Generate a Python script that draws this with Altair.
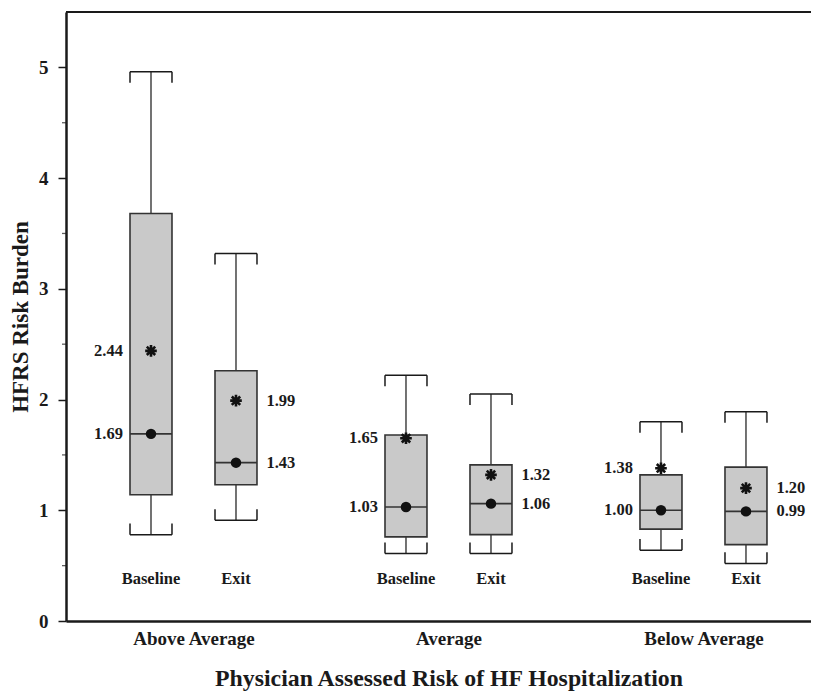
import altair as alt
import pandas as pd

# ---------------- data ----------------
groups = ["Above Average", "Average", "Below Average"]
periods = ["Baseline", "Exit"]

# order: AboveAvg-Baseline, AboveAvg-Exit, Avg-Baseline, Avg-Exit, BelowAvg-Baseline, BelowAvg-Exit
low = [0.78, 0.91, 0.61, 0.61, 0.64, 0.52]
q1 = [1.14, 1.23, 0.76, 0.78, 0.83, 0.69]
median = [1.69, 1.43, 1.03, 1.06, 1.00, 0.99]
q3 = [3.68, 2.26, 1.68, 1.41, 1.32, 1.39]
high = [4.96, 3.32, 2.22, 2.05, 1.80, 1.89]
mean = [2.44, 1.99, 1.65, 1.32, 1.38, 1.20]

y_major = [0, 1, 2, 3, 4, 5]
y_minor = [0.5, 1.5, 2.5, 3.5, 4.5]

rows = []
for gi, g in enumerate(groups):
    for pi, p in enumerate(periods):
        k = gi * len(periods) + pi
        rows.append(dict(group=g, period=p, xpos=gi * 3 + 1 + pi,
                         low=low[k], q1=q1[k], median=median[k], q3=q3[k],
                         high=high[k], mean=mean[k]))
df = pd.DataFrame(rows)
group_centers = {gi * 3 + 1.5: g for gi, g in enumerate(groups)}

# ---------------- style ----------------
FONT = "Liberation Serif"
INK = "#1a1a1a"
W, H = 745, 609
XMAX = 8.765
HALF = 0.247   # half box width in x units
CAP = 0.1      # cap end-tick length in y units

x_scale = alt.Scale(domain=[0, XMAX], nice=False, zero=False)
y_scale = alt.Scale(domain=[0, 5.5], nice=False, zero=False)

label_expr = "{" + ", ".join(f"'{k}': '{v}'" for k, v in group_centers.items()) + "}[datum.value]"

x_axis = alt.Axis(
    values=list(group_centers.keys()), labelExpr=label_expr, ticks=False, grid=False,
    domainColor=INK, domainWidth=2.5, labelFont=FONT, labelFontSize=19,
    labelFontWeight="bold", labelColor=INK, labelPadding=8, labelFlush=False,
    title="Physician Assessed Risk of HF Hospitalization", titleFont=FONT,
    titleFontSize=23.8, titleFontWeight="bold", titleColor=INK,
    titleX=W * 4.5 / XMAX, titleY=64, titleBaseline="alphabetic",
)
y_axis = alt.Axis(
    values=y_major, format="d", grid=False, tickSize=8, tickWidth=1.5, tickColor=INK,
    domainColor=INK, domainWidth=2.5, labelFont=FONT, labelFontSize=19,
    labelFontWeight="bold", labelColor=INK, labelPadding=10,
    title="HFRS Risk Burden", titleFont=FONT, titleFontSize=23, titleFontWeight="bold",
    titleColor=INK, titleAngle=270, titleX=-39, titleY=H / 2, titleBaseline="alphabetic",
)


def X(field):
    return alt.X(field, type="quantitative", scale=x_scale, axis=x_axis)


def Y(field):
    return alt.Y(field, type="quantitative", scale=y_scale, axis=y_axis)


base = alt.Chart(df).transform_calculate(
    xl=f"datum.xpos - {HALF}", xr=f"datum.xpos + {HALF}",
    hi2=f"datum.high - {CAP}", lo2=f"datum.low + {CAP}",
)

wcol, wsw = "#444444", 1.5

whisk_up = base.mark_rule(color=wcol, strokeWidth=wsw).encode(
    x=X("xpos"), y=Y("q3"), y2="high:Q")
whisk_dn = base.mark_rule(color=wcol, strokeWidth=wsw).encode(
    x=X("xpos"), y=Y("low"), y2="q1:Q")
cap_top = base.mark_rule(color=INK, strokeWidth=wsw).encode(
    x=X("xl"), x2="xr:Q", y=Y("high"))
cap_bot = base.mark_rule(color=INK, strokeWidth=wsw).encode(
    x=X("xl"), x2="xr:Q", y=Y("low"))
cap_top_ends = base.transform_fold(["xl", "xr"], as_=["side", "xe"]).mark_rule(
    color=INK, strokeWidth=wsw).encode(x=X("xe"), y=Y("high"), y2="hi2:Q")
cap_bot_ends = base.transform_fold(["xl", "xr"], as_=["side", "xe"]).mark_rule(
    color=INK, strokeWidth=wsw).encode(x=X("xe"), y=Y("low"), y2="lo2:Q")

boxes = base.mark_rect(fill="#c9c9c9", stroke="#333333", strokeWidth=1.6).encode(
    x=X("xl"), x2="xr:Q", y=Y("q1"), y2="q3:Q")
med_line = base.mark_rule(color="#333333", strokeWidth=1.6).encode(
    x=X("xl"), x2="xr:Q", y=Y("median"))
med_dot = base.mark_point(shape="circle", filled=True, size=110, color="#111111",
                          opacity=1).encode(x=X("xpos"), y=Y("median"))
STAR = "M-1,0L1,0M0,-1L0,1M-0.72,-0.72L0.72,0.72M-0.72,0.72L0.72,-0.72"
mean_star = base.mark_point(shape=STAR, filled=False, size=135, stroke="#111111",
                            strokeWidth=2.6, opacity=1).encode(x=X("xpos"), y=Y("mean"))

vals = base.transform_fold(["mean", "median"], as_=["stat", "val"])
lab_base = vals.transform_filter(f"datum.period == '{periods[0]}'").mark_text(
    align="right", baseline="middle", dx=-28, font=FONT, fontSize=16.5,
    fontWeight="bold", color=INK).encode(
    x=X("xpos"), y=Y("val"), text=alt.Text("val:Q", format=".2f"))
lab_exit = vals.transform_filter(f"datum.period == '{periods[1]}'").mark_text(
    align="left", baseline="middle", dx=30.5, font=FONT, fontSize=16.5,
    fontWeight="bold", color=INK).encode(
    x=X("xpos"), y=Y("val"), text=alt.Text("val:Q", format=".2f"))

period_lab = base.mark_text(align="center", baseline="alphabetic", font=FONT,
                            fontSize=16.5, fontWeight="bold", color=INK).encode(
    x=X("xpos"), y=alt.value(572), text="period:N")

frame_top = alt.Chart(alt.Data(values=[{}])).mark_rule(color=INK, strokeWidth=2).encode(
    x=alt.value(0), x2=alt.value(W), y=alt.value(0))

minor = alt.Chart(pd.DataFrame({"m": y_minor})).mark_tick(
    orient="horizontal", size=4, thickness=1.3, color=INK).encode(
    y=Y("m"), x=alt.value(-2))

chart = alt.layer(
    whisk_up, whisk_dn, cap_top, cap_bot, cap_top_ends, cap_bot_ends,
    boxes, med_line, med_dot, mean_star, lab_base, lab_exit, period_lab,
    frame_top, minor,
).properties(
    width=W, height=H,
    padding={"left": 58, "top": 4, "right": 0, "bottom": 70},
    autosize=alt.AutoSizeParams(type="none"),
).configure_view(strokeWidth=0).configure(font=FONT)

chart.save("out.html", embed_options={"renderer": "svg", "actions": False})
